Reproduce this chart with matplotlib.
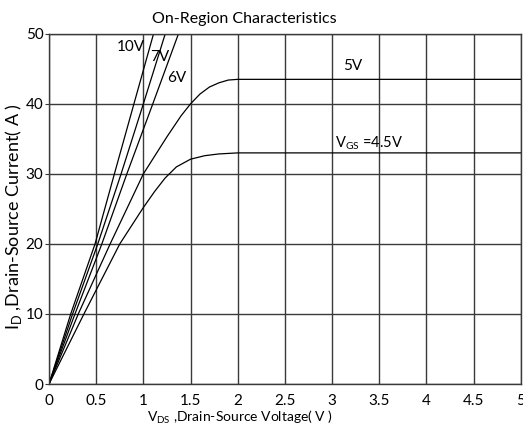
import matplotlib
matplotlib.use("Agg")
import matplotlib.pyplot as plt

plt.rcParams['font.family'] = ['Lato', 'DejaVu Sans']
plt.rcParams['mathtext.fontset'] = 'custom'
plt.rcParams['mathtext.rm'] = 'Lato'

# curves (V_DS, I_D)
vds_10v = [0, 0.23, 0.488, 0.693, 0.90, 1.108]
id_10v = [0, 10, 20, 30, 40, 50]
vds_7v = [0, 0.25, 0.517, 0.764, 1.0, 1.232]
id_7v = [0, 10, 20, 30, 40, 50]
vds_6v = [0, 0.275, 0.56, 0.825, 1.10, 1.372]
id_6v = [0, 10, 20, 30, 40, 50]
vds_5v = [0, 0.31, 0.648, 1.0, 1.25, 1.4, 1.5, 1.6, 1.7, 1.8, 1.9, 2.0, 5.0]
id_5v = [0, 10, 20, 30, 35.3, 38.3, 40, 41.4, 42.4, 43.0, 43.4, 43.5, 43.5]
vds_45v = [0, 0.37, 0.75, 1.0, 1.12, 1.23, 1.35, 1.5, 1.65, 1.8, 2.0, 5.0]
id_45v = [0, 10, 20, 25.2, 27.5, 29.4, 31.0, 32.1, 32.6, 32.85, 33.0, 33.0]

xticks = [0, 0.5, 1, 1.5, 2, 2.5, 3, 3.5, 4, 4.5, 5]
xtick_labels = ['0', '0.5', '1', '1.5', '2', '2.5', '3', '3.5', '4', '4.5', '5']
yticks = [0, 10, 20, 30, 40, 50]

fig = plt.figure(figsize=(5.23, 4.45), dpi=100)
ax = fig.add_axes([0.0937, 0.137, 0.902, 0.787])

for xs, ys in [(vds_10v, id_10v), (vds_7v, id_7v), (vds_6v, id_6v),
               (vds_5v, id_5v), (vds_45v, id_45v)]:
    ax.plot(xs, ys, color='black', linewidth=0.9)

ax.set_xlim(0, 5)
ax.set_ylim(0, 50)
ax.set_xticks(xticks)
ax.set_xticklabels(xtick_labels)
ax.set_yticks(yticks)
ax.grid(True, color='#3a3a3a', linewidth=1.0)
ax.set_axisbelow(True)
for s in ax.spines.values():
    s.set_color('#3a3a3a')
    s.set_linewidth(1.0)
ax.tick_params(axis='x', length=0, pad=7, labelsize=11)
ax.tick_params(axis='y', length=3, pad=1, labelsize=11, color='#3a3a3a')

ax.text(0.72, 48.1, '10V', fontsize=11, va='center')
ax.text(1.07, 46.7, '7V', fontsize=11, va='center')
ax.text(1.25, 43.7, '6V', fontsize=11, va='center')
ax.text(3.12, 45.4, '5V', fontsize=11, va='center')
ax.text(3.03, 34.4, r'V$_{\mathregular{GS}}$ =4.5V', fontsize=10.5, va='center')

ax.set_title('On-Region Characteristics', fontsize=11.5, pad=8, x=0.415)
ax.set_xlabel(r'V$_{\mathregular{DS}}$ ,Drain-Source Voltage( V )', fontsize=10)
ax.xaxis.set_label_coords(0.405, -0.07, transform=ax.transAxes)
ax.xaxis.label.set_va('top')
ax.set_ylabel(r'I$_{\mathregular{D}}$ ,Drain-Source Current( A )', fontsize=13)
ax.yaxis.set_label_coords(-0.052, 0.477)

fig.savefig('out.png', dpi=100)
